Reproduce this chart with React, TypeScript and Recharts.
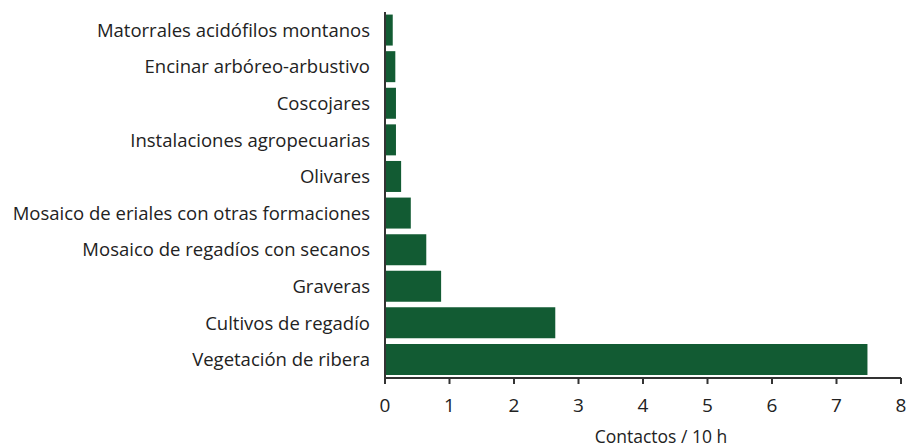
import React from 'react';
import { BarChart, Bar, XAxis, YAxis, Label } from 'recharts';

// categorias de arriba a abajo
const categories = [
    'Matorrales acidófilos montanos',
    'Encinar arbóreo-arbustivo',
    'Coscojares',
    'Instalaciones agropecuarias',
    'Olivares',
    'Mosaico de eriales con otras formaciones',
    'Mosaico de regadíos con secanos',
    'Graveras',
    'Cultivos de regadío',
    'Vegetación de ribera',
];
const contactos = [0.12, 0.16, 0.17, 0.17, 0.25, 0.4, 0.64, 0.87, 2.64, 7.48];
const xTicks = [0, 1, 2, 3, 4, 5, 6, 7, 8];

const data = categories.map((name, i) => ({ name, value: contactos[i] }));

const FONT = '"Open Sans", "Noto Sans", sans-serif';

export default function App() {
    return (
        <div style={{ position: 'absolute', left: 0, top: 0, background: '#fff' }}>
            <BarChart
                width={907}
                height={447}
                data={data}
                layout="vertical"
                margin={{ top: 12, right: 6, left: 0, bottom: 0 }}
                barCategoryGap="7%"
            >
                <XAxis
                    type="number"
                    domain={[0, 8]}
                    ticks={xTicks}
                    height={69}
                    tick={{ fontSize: 19, fill: '#222', fontFamily: FONT }}
                    tickSize={6}
                    tickMargin={15}
                    axisLine={{ stroke: '#333', strokeWidth: 2 }}
                    tickLine={{ stroke: '#333', strokeWidth: 2 }}
                >
                    <Label
                        value="Contactos / 10 h"
                        position="insideBottom"
                        offset={4}
                        dx={18}
                        style={{ fontSize: 17.5, fill: '#222', fontFamily: FONT }}
                    />
                </XAxis>
                <YAxis
                    type="category"
                    dataKey="name"
                    width={385}
                    tickLine={false}
                    tickMargin={9}
                    interval={0}
                    tick={{ fontSize: 18.5, fill: '#222', fontFamily: FONT }}
                    axisLine={{ stroke: '#333', strokeWidth: 2 }}
                />
                <Bar dataKey="value" fill="#125b33" isAnimationActive={false} />
            </BarChart>
        </div>
    );
}
